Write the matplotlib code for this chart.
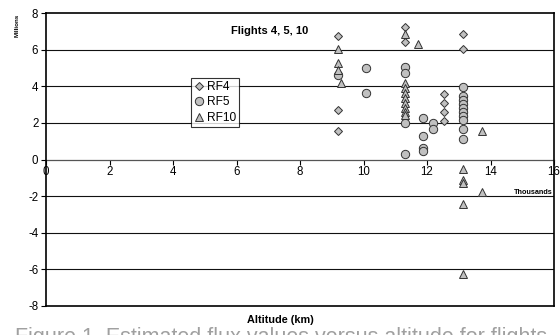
import matplotlib
matplotlib.use("Agg")
import matplotlib.pyplot as plt
import numpy as np

plt.rcParams['font.family'] = ['Liberation Sans', 'DejaVu Sans']
plt.rcParams['axes.unicode_minus'] = False

# Altitude (thousands of metres) and flux (millions)
rf4_x = [9.2, 9.2, 9.2, 11.3, 11.3, 12.52, 12.52, 12.52, 12.52, 13.12, 13.12]
rf4_y = [6.75, 2.7, 1.56, 7.22, 6.44, 3.6, 3.1, 2.6, 2.1, 6.88, 6.03]

rf5_x = [9.2, 10.07, 10.07, 11.3, 11.3, 11.3, 11.3, 11.88, 11.88, 11.88, 11.88,
         12.2, 12.2] + [13.12] * 10
rf5_y = [4.6, 4.97, 3.63, 5.07, 4.72, 1.98, 0.3, 2.28, 1.28, 0.65, 0.45,
         2.0, 1.65, 3.97, 3.48, 3.25, 3.02, 2.8, 2.58, 2.36, 2.15, 1.68, 1.14]

rf10_x = [9.2, 9.2, 9.2, 9.28, 11.3, 11.3, 11.3, 11.3, 11.3, 11.3, 11.3, 11.3, 11.3,
          11.72, 13.12, 13.12, 13.12, 13.12, 13.12, 13.74, 13.74]
rf10_y = [6.02, 5.26, 4.9, 4.2, 6.88, 4.2, 3.89, 3.62, 3.34, 3.1, 2.83, 2.61, 2.43,
          6.3, -0.5, -1.1, -1.27, -2.43, -6.26, 1.55, -1.76]

series_labels = ['RF4', 'RF5', 'RF10']
x_ticks = list(range(0, 17, 2))
y_ticks = list(range(-8, 9, 2))

fig = plt.figure(figsize=(5.6, 3.35), dpi=100)
ax = fig.add_axes([46/560, 29/335, 508/560, 293/335])
ax.set_xlim(0, 16)
ax.set_ylim(-8, 8)

fill = '#C0C0C0'
edge = '#333333'
ax.plot(rf4_x, rf4_y, linestyle='none', marker='D', markersize=4.2,
        markerfacecolor=fill, markeredgecolor=edge, markeredgewidth=0.7,
        label=series_labels[0], zorder=3)
ax.plot(rf5_x, rf5_y, linestyle='none', marker='o', markersize=6.0,
        markerfacecolor=fill, markeredgecolor=edge, markeredgewidth=0.7,
        label=series_labels[1], zorder=3)
ax.plot(rf10_x, rf10_y, linestyle='none', marker='^', markersize=5.6,
        markerfacecolor=fill, markeredgecolor=edge, markeredgewidth=0.7,
        label=series_labels[2], zorder=3)

# horizontal gridlines
for yv in y_ticks[1:-1]:
    if yv != 0:
        ax.axhline(yv, color='#111111', linewidth=0.8, zorder=1)

for s in ax.spines.values():
    s.set_linewidth(1.2)
    s.set_color('black')

ax.set_yticks(y_ticks)
ax.tick_params(axis='y', direction='out', length=3.5, width=0.8, labelsize=8.3, pad=2)
ax.set_xticks([])

sec = ax.secondary_xaxis(0, transform=ax.transData)
sec.set_xticks(x_ticks)
sec.spines['bottom'].set_linewidth(0.9)
sec.spines['bottom'].set_color('#555555')
sec.tick_params(axis='x', direction='out', length=3.5, width=0.8, labelsize=8.3, pad=1.5)

ax.text(7.05, 7.0, 'Flights 4, 5, 10', fontsize=8.0, fontweight='bold',
        ha='center', va='center')
ax.text(15.97, -1.8, 'Thousands', fontsize=5.2, fontweight='bold',
        ha='right', va='center')
fig.text(17/560, 1 - 25/335, 'Millions', rotation=90, fontsize=4.5,
         fontweight='bold', ha='center', va='center')
fig.text(0.5, 1 - 320/335, 'Altitude (km)', fontsize=7.8, fontweight='bold',
         ha='center', va='center')
fig.text(15/560, 1 - 327/335, 'Figure 1. Estimated flux values versus altitude for flights',
         fontsize=15.5, color='#A0A0A0', ha='left', va='top')

leg = ax.legend(loc='upper left', bbox_to_anchor=(0.285, 0.779), fontsize=8.6,
                frameon=True, fancybox=False, borderpad=0.25, labelspacing=0.3,
                handlelength=0.8, handletextpad=0.3, borderaxespad=0)
leg.get_frame().set_edgecolor('black')
leg.get_frame().set_linewidth(0.8)

fig.savefig('out.png', dpi=100)
